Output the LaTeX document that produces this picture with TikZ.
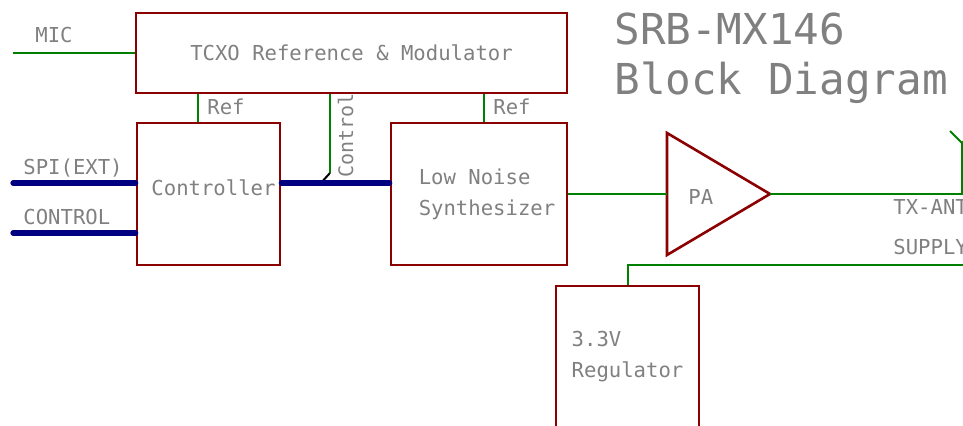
\documentclass[tikz,border=0pt]{standalone}
\usepackage{fontspec}
\setmonofont{DejaVu Sans Mono}
\usetikzlibrary{positioning,calc}
\definecolor{partred}{HTML}{8B0000}
\definecolor{netgreen}{HTML}{008000}
\definecolor{busblue}{HTML}{000080}
\definecolor{textgray}{HTML}{808080}

\begin{document}
\begin{tikzpicture}[
    x=0.5pt, y=-0.5pt,
    block/.style={rectangle, draw=partred, line width=1.3pt, text=textgray, font=\ttfamily\fontsize{10.3}{15.5}\selectfont, inner sep=0pt, minimum width=71.5pt, minimum height=71pt},
    partline/.style={draw=partred, line width=1.3pt, line join=miter},
    net/.style={draw=netgreen, line width=1pt},
    bus/.style={draw=busblue, line width=2.6pt, line cap=round},
    lbl/.style={text=textgray, font=\ttfamily\fontsize{10.3}{12}\selectfont, inner sep=0pt},
    title/.style={text=textgray, font=\ttfamily\fontsize{21.3}{25}\selectfont, inner sep=0pt}
  ]
    \useasboundingbox (0,0) rectangle (963,426);
    \clip (0,0) rectangle (963,426);
    \node[block, minimum width=215.5pt, minimum height=40pt] (tcxo) at (351.5,53) {TCXO Reference \& Modulator};
    \node[block, text depth=6.5pt] (ctrl) at (208.5,194) {\hspace*{5pt}Controller};
    \node[block, minimum width=88pt, align=left] (synth) at (479,194) {\hspace*{8pt}Low Noise\\\hspace*{8pt}Synthesizer};
    \node[block, align=left] (reg) at (627.5,357) {3.3V\\Regulator};
    \draw[partline] (667,133) -- (770,194) -- (667,255) -- cycle;
    \node[lbl, anchor=base west] (pa) at (688,205) {PA};
    \coordinate (pain) at (667,194);
    \coordinate (paout) at (770,194);
    \coordinate (micin) at (13,53);
    \coordinate (spiin) at (13,183);
    \coordinate (ctlin) at (13,233);
    \coordinate (cbend) at (330,173);
    \coordinate (ant) at (962,143);
    \coordinate (supin) at (975,265);
    \node[title, anchor=base west] (title1) at (614,45) {SRB-MX146};
    \node[title, anchor=base west] (title2) at (614,95) {Block Diagram};
    \node[lbl, anchor=base west] (miclbl) at (35,43) {MIC};
    \node[lbl, anchor=base west] (ref1lbl) at (207,115) {Ref};
    \node[lbl, anchor=base west] (ref2lbl) at (493,115) {Ref};
    \node[lbl, font=\ttfamily\fontsize{10}{12}\selectfont, rotate=90, anchor=base west] (ctllbl) at (353,178) {Control};
    \node[lbl, anchor=base west] (spilbl) at (23,175) {SPI(EXT)};
    \node[lbl, anchor=base west] (ctlinlbl) at (23,225) {CONTROL};
    \node[lbl, anchor=base west] (antlbl) at (893,215) {TX-ANT};
    \node[lbl, anchor=base west] (suplbl) at (893,255) {SUPPLY};
    \draw[net] (micin) -- (micin -| tcxo.west);
    \draw[net] ([xshift=-5.25pt]ctrl.north) coordinate (r1) -- (r1 |- tcxo.south);
    \draw[net] ([xshift=2.5pt]synth.north) coordinate (r2) -- (r2 |- tcxo.south);
    \draw[net] (cbend |- tcxo.south) -- (cbend);
    \draw[line width=1pt] (cbend) -- ++(-10,11);
    \draw[bus] ([yshift=5.5pt]ctrl.east) -- ([yshift=5.5pt]synth.west);
    \draw[bus] (spiin) -- (spiin -| ctrl.west);
    \draw[bus] (ctlin) -- (ctlin -| ctrl.west);
    \draw[net] (synth.east) -- (pain);
    \draw[net] (paout) -- (paout -| ant) -- (ant);
    \draw[net] (ant) -- ++(-12,-12);
    \draw[net] (ant) -- ++(12,-12);
    \draw[net] (reg.north) |- (supin);
  \end{tikzpicture}
\end{document}
